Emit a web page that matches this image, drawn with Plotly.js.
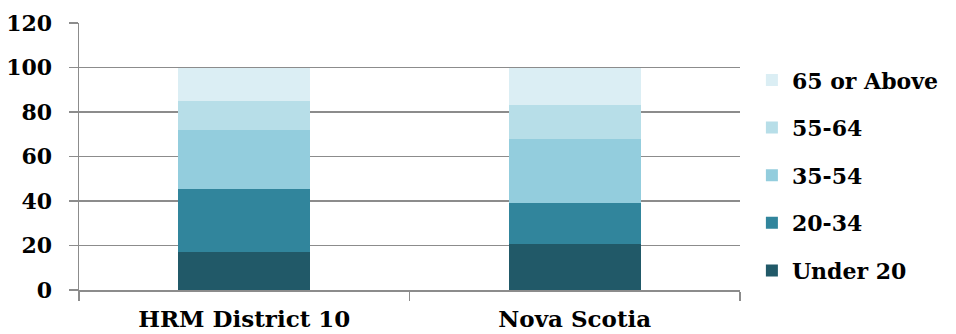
<!DOCTYPE html>
<html>
<head>
<meta charset="utf-8">
<script src="https://cdn.plot.ly/plotly-3.0.1.min.js"></script>
<style>
  html, body { margin: 0; padding: 0; background: #ffffff; }
  #chart { width: 956px; height: 334px; }
</style>
</head>
<body>
<div id="chart"></div>
<script>
// Age distribution (%) by area
const areas = ['HRM District 10', 'Nova Scotia'];
const ageGroups = ['Under 20', '20-34', '35-54', '55-64', '65 or Above'];
const under20 = [17.2, 20.6];
const age20to34 = [28.3, 18.3];
const age35to54 = [26.6, 29.0];
const age55to64 = [12.7, 15.3];
const age65plus = [15.2, 16.8];
const groupColors = ['#215968', '#31859C', '#93CDDD', '#B7DEE8', '#DBEEF4'];

const seriesValues = [under20, age20to34, age35to54, age55to64, age65plus];

// oldest group listed first in the legend, youngest last
const traces = ageGroups.map((name, i) => ({
  type: 'bar',
  name: name,
  x: areas,
  y: seriesValues[i],
  legendgroup: name,
  legendrank: 1000 + (ageGroups.length - i),
  marker: { color: groupColors[i], line: { width: 0 } },
  hoverinfo: 'x+y+name'
}));

const serif = 'DejaVu Serif, serif';
const categoryFont = { family: serif, size: 23, color: '#000000', weight: 700 };
const valueFont = { family: serif, size: 22, color: '#000000', weight: 700 };
const legendFont = { family: serif, size: 22, color: '#000000', weight: 700 };

const layout = {
  width: 956,
  height: 334,
  margin: { l: 79, r: 216, t: 23, b: 44, pad: 0 },
  paper_bgcolor: '#ffffff',
  plot_bgcolor: '#ffffff',
  barmode: 'stack',
  bargap: 0.6,
  font: categoryFont,
  showlegend: true,
  legend: {
    x: 1.018,
    xanchor: 'left',
    y: 0.43,
    yanchor: 'middle',
    traceorder: 'grouped',
    tracegroupgap: 16,
    font: legendFont,
    bgcolor: 'rgba(0,0,0,0)'
  },
  xaxis: {
    type: 'category',
    showgrid: false,
    showline: true,
    linecolor: '#8c8c8c',
    linewidth: 1.5,
    ticks: 'outside',
    tickson: 'boundaries',
    ticklen: 9,
    tickwidth: 1.5,
    tickcolor: '#8c8c8c',
    ticklabelstandoff: 8,
    tickfont: categoryFont,
    zeroline: false
  },
  yaxis: {
    range: [0, 120],
    dtick: 20,
    tick0: 0,
    showgrid: true,
    gridcolor: '#8c8c8c',
    gridwidth: 1.5,
    showline: true,
    linecolor: '#8c8c8c',
    linewidth: 1.5,
    ticks: 'outside',
    ticklen: 9,
    tickwidth: 1.5,
    tickcolor: '#8c8c8c',
    ticklabelstandoff: 12,
    tickfont: valueFont,
    zeroline: false
  }
};

Plotly.newPlot('chart', traces, layout, { displayModeBar: false, staticPlot: true });
</script>
</body>
</html>
